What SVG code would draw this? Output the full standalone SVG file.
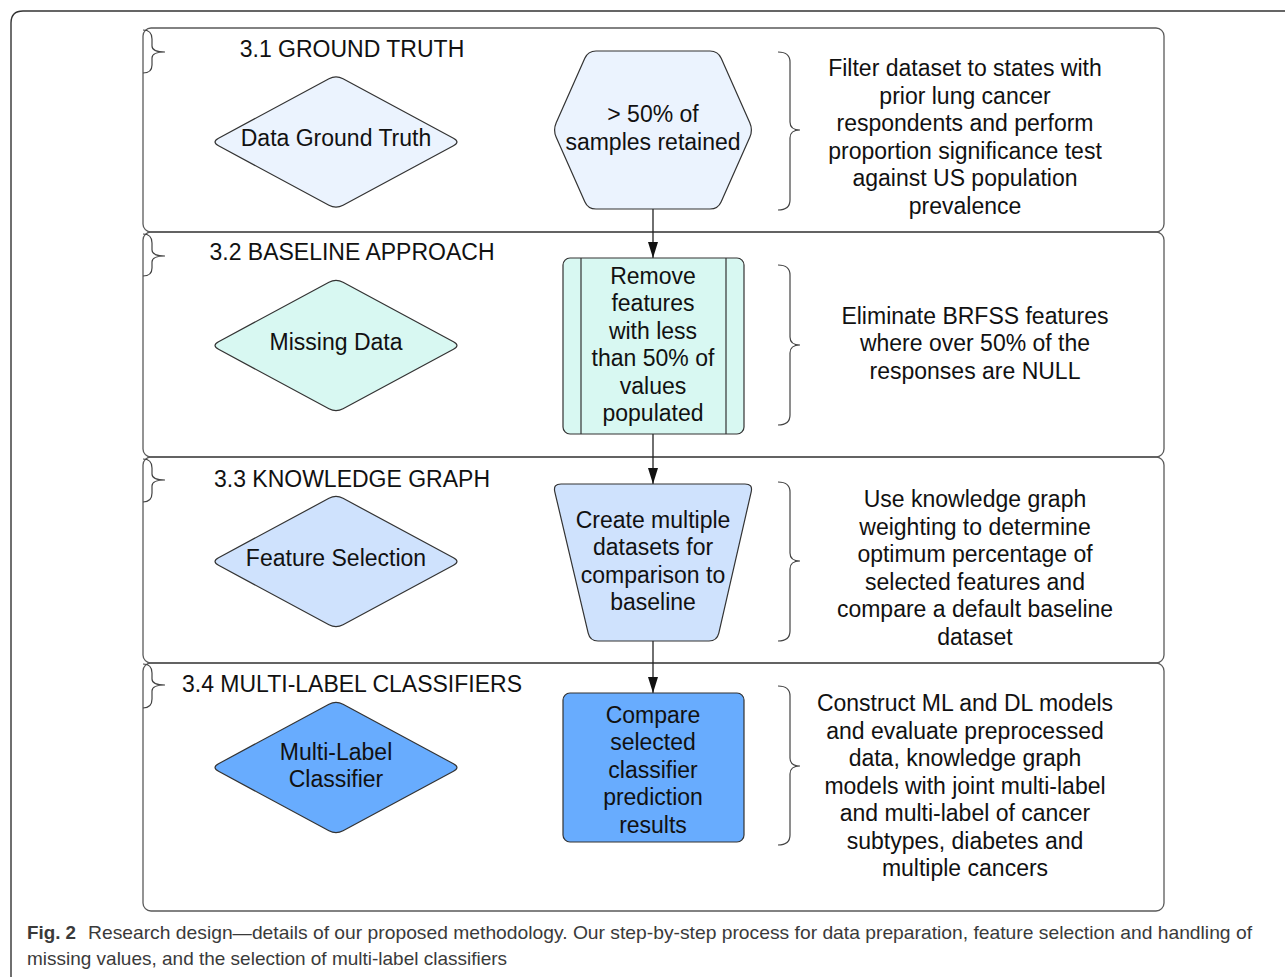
<svg xmlns="http://www.w3.org/2000/svg" xmlns:xlink="http://www.w3.org/1999/xlink" width="1285" height="977" viewBox="0 0 1285 977">
<style>
.sec{fill:none;stroke:#5a5a5a;stroke-width:1.3}
.br{fill:none;stroke:#444;stroke-width:1.2}
.shp{stroke:#333;stroke-width:1.2}
.t{font-family:"Liberation Sans",Arial,sans-serif;font-size:23px;fill:#111;text-anchor:middle}
.cap{font-family:"Liberation Sans",Arial,sans-serif;font-size:19px;fill:#3a3a3a}
.conn{stroke:#222;stroke-width:1.3;fill:none}
</style>
<defs>
<path id="diamond" d="M-117.46,-3.79 L-7.04,-63.21 Q0,-67 7.04,-63.21 L117.46,-3.79 Q124.5,0 117.46,3.79 L7.04,63.21 Q0,67 -7.04,63.21 L-117.46,3.79 Q-124.5,0 -117.46,-3.79 Z"/>
<marker id="ah" markerWidth="16" markerHeight="10" refX="16" refY="5" orient="auto" markerUnits="userSpaceOnUse" viewBox="0 0 16 10">
<path d="M0,0 L16,5 L0,10 Z" fill="#111"/>
</marker>
</defs>
<rect width="1285" height="977" fill="#fff"/>
<path d="M11,977 V23 Q11,11 23,11 H1285" fill="none" stroke="#333" stroke-width="1.4"/>

<g id="sections">
<rect class="sec" x="143" y="28" width="1021" height="204" rx="8"/>
<rect class="sec" x="143" y="232" width="1021" height="225" rx="8"/>
<rect class="sec" x="143" y="457" width="1021" height="206" rx="8"/>
<rect class="sec" x="143" y="663" width="1021" height="248" rx="8"/>
<path class="br" d="M143,30 Q152,30 152,39 L152,46 Q152,52 165,52 Q152,52 152,58 L152,65 Q152,73 143,73"/>
<path class="br" d="M143,234 Q152,234 152,243 L152,250 Q152,256 165,256 Q152,256 152,262 L152,268 Q152,276 143,276"/>
<path class="br" d="M143,459 Q152,459 152,468 L152,474 Q152,480 165,480 Q152,480 152,486 L152,493 Q152,502 143,502"/>
<path class="br" d="M143,664 Q152,664 152,673 L152,679 Q152,685 165,685 Q152,685 152,691 L152,699 Q152,708 143,708"/>
<text class="t" x="352" y="57">3.1 GROUND TRUTH</text>
<text class="t" x="352" y="260">3.2 BASELINE APPROACH</text>
<text class="t" x="352" y="487">3.3 KNOWLEDGE GRAPH</text>
<text class="t" x="352" y="692">3.4 MULTI-LABEL CLASSIFIERS</text>
</g>

<g id="connectors">
<line class="conn" x1="653" y1="209" x2="653" y2="258" marker-end="url(#ah)"/>
<line class="conn" x1="653" y1="434" x2="653" y2="484" marker-end="url(#ah)"/>
<line class="conn" x1="653" y1="641" x2="653" y2="693" marker-end="url(#ah)"/>
</g>

<g id="node-data-ground-truth">
<use xlink:href="#diamond" href="#diamond" transform="translate(336,142)" class="shp" fill="#ebf3fe"/>
<text class="t" x="336" y="146">Data Ground Truth</text>
</g>
<g id="node-samples-retained">
<path class="shp" fill="#ebf3fe" d="M596,51 L710,51 Q718,51 721.2,58.3 L749.8,122.7 Q753,130 749.8,137.3 L721.2,201.7 Q718,209 710,209 L596,209 Q588,209 584.8,201.7 L556.2,137.3 Q553,130 556.2,122.7 L584.8,58.3 Q588,51 596,51 Z"/>
<text class="t" x="653" y="122">&gt; 50% of</text>
<text class="t" x="653" y="150">samples retained</text>
</g>
<g id="note-filter">
<path class="br" d="M778,52 Q790,52 790,62 L790,122 Q790,130 800,130 Q790,130 790,138 L790,200 Q790,210 778,210"/>
<text class="t" x="965" y="76">Filter dataset to states with</text>
<text class="t" x="965" y="104">prior lung cancer</text>
<text class="t" x="965" y="131">respondents and perform</text>
<text class="t" x="965" y="159">proportion significance test</text>
<text class="t" x="965" y="186">against US population</text>
<text class="t" x="965" y="214">prevalence</text>
</g>

<g id="node-missing-data">
<use xlink:href="#diamond" href="#diamond" transform="translate(336,345.5)" class="shp" fill="#d8f8f2"/>
<text class="t" x="336" y="350">Missing Data</text>
</g>
<g id="node-remove-features">
<rect class="shp" fill="#d8f8f2" x="563" y="258" width="181" height="176" rx="7"/>
<line class="shp" x1="581" y1="258" x2="581" y2="434"/>
<line class="shp" x1="726" y1="258" x2="726" y2="434"/>
<text class="t" x="653" y="284">Remove</text>
<text class="t" x="653" y="311">features</text>
<text class="t" x="653" y="339">with less</text>
<text class="t" x="653" y="366">than 50% of</text>
<text class="t" x="653" y="394">values</text>
<text class="t" x="653" y="421">populated</text>
</g>
<g id="note-eliminate">
<path class="br" d="M778,265 Q790,265 790,275 L790,337 Q790,345 800,345 Q790,345 790,353 L790,415 Q790,425 778,425"/>
<text class="t" x="975" y="324">Eliminate BRFSS features</text>
<text class="t" x="975" y="351">where over 50% of the</text>
<text class="t" x="975" y="379">responses are NULL</text>
</g>

<g id="node-feature-selection">
<use xlink:href="#diamond" href="#diamond" transform="translate(336,561.5)" class="shp" fill="#cfe2fd"/>
<text class="t" x="336" y="566">Feature Selection</text>
</g>
<g id="node-create-datasets">
<path class="shp" fill="#cfe2fd" d="M561,484 L745,484 Q753,484 751.2,491.8 L718.8,633.2 Q717,641 709,641 L598,641 Q590,641 588.2,633.2 L554.8,491.8 Q553,484 561,484 Z"/>
<text class="t" x="653" y="528">Create multiple</text>
<text class="t" x="653" y="555">datasets for</text>
<text class="t" x="653" y="583">comparison to</text>
<text class="t" x="653" y="610">baseline</text>
</g>
<g id="note-knowledge">
<path class="br" d="M778,482 Q790,482 790,492 L790,553 Q790,561 800,561 Q790,561 790,569 L790,631 Q790,641 778,641"/>
<text class="t" x="975" y="507">Use knowledge graph</text>
<text class="t" x="975" y="535">weighting to determine</text>
<text class="t" x="975" y="562">optimum percentage of</text>
<text class="t" x="975" y="590">selected features and</text>
<text class="t" x="975" y="617">compare a default baseline</text>
<text class="t" x="975" y="645">dataset</text>
</g>

<g id="node-multi-label">
<use xlink:href="#diamond" href="#diamond" transform="translate(336,767.5)" class="shp" fill="#68acfe"/>
<text class="t" x="336" y="760">Multi-Label</text>
<text class="t" x="336" y="787">Classifier</text>
</g>
<g id="node-compare">
<rect class="shp" fill="#68acfe" x="563" y="693" width="181" height="149" rx="7"/>
<text class="t" x="653" y="723">Compare</text>
<text class="t" x="653" y="750">selected</text>
<text class="t" x="653" y="778">classifier</text>
<text class="t" x="653" y="805">prediction</text>
<text class="t" x="653" y="833">results</text>
</g>
<g id="note-construct">
<path class="br" d="M778,686 Q790,686 790,696 L790,758 Q790,766 800,766 Q790,766 790,774 L790,835 Q790,845 778,845"/>
<text class="t" x="965" y="711">Construct ML and DL models</text>
<text class="t" x="965" y="739">and evaluate preprocessed</text>
<text class="t" x="965" y="766">data, knowledge graph</text>
<text class="t" x="965" y="794">models with joint multi-label</text>
<text class="t" x="965" y="821">and multi-label of cancer</text>
<text class="t" x="965" y="849">subtypes, diabetes and</text>
<text class="t" x="965" y="876">multiple cancers</text>
</g>

<g id="caption">
<text class="cap" x="27" y="939" font-weight="bold" fill="#222" textLength="49" lengthAdjust="spacingAndGlyphs">Fig. 2</text>
<text class="cap" x="88" y="939" textLength="1164" lengthAdjust="spacingAndGlyphs">Research design—details of our proposed methodology. Our step-by-step process for data preparation, feature selection and handling of</text>
<text class="cap" x="27" y="965" textLength="480" lengthAdjust="spacingAndGlyphs">missing values, and the selection of multi-label classifiers</text>
</g>
</svg>
